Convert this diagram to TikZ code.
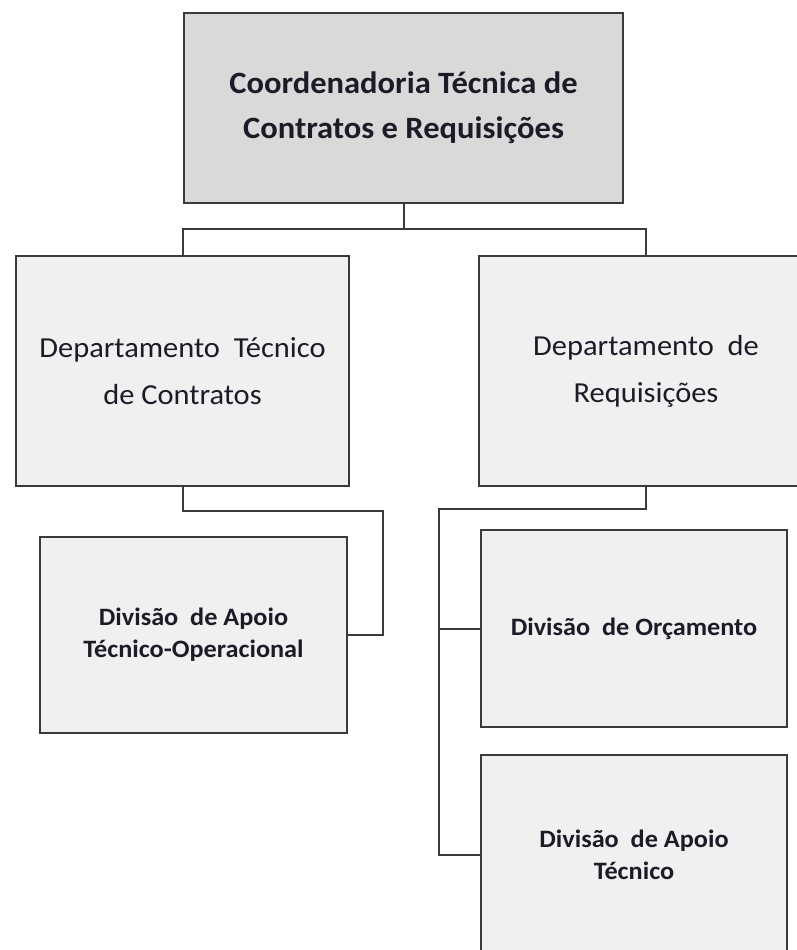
\documentclass[tikz,border=0pt]{standalone}
\usepackage{fontspec}
\setmainfont[FakeStretch=1.05]{Carlito}
\definecolor{bordo}{HTML}{3A3A3A}
\definecolor{fundo}{HTML}{F0F0F0}
\definecolor{fundoTopo}{HTML}{D9D9D9}
\definecolor{texto}{HTML}{1C1C28}
\begin{document}
\begin{tikzpicture}[x=1pt, y=-1pt,
        caixa/.style={draw=bordo, line width=2pt, fill=fundo, text=texto,
                      align=center, inner sep=0pt},
        ligacao/.style={draw=bordo, line width=2pt}]

        % area visivel
        \clip (0,0) rectangle (797,950);
        \fill[white] (0,0) rectangle (797,950);

        % ----------------------------------------------------
        % 1. Coordenadoria
        % ----------------------------------------------------
        \node[caixa, fill=fundoTopo, minimum width=439pt, minimum height=190pt,
              font=\fontsize{31}{45}\selectfont\bfseries] (coord) at (403.5,108)
              {Coordenadoria Técnica de\\Contratos e Requisições};

        % ----------------------------------------------------
        % 2. Departamentos
        % ----------------------------------------------------
        \node[caixa, minimum width=333pt, minimum height=230pt,
              font=\fontsize{29}{47}\selectfont] (dtc) at (182.5,371)
              {Departamento\ \ Técnico\\de Contratos};
        \node[caixa, minimum width=334pt, minimum height=230pt,
              font=\fontsize{29}{47}\selectfont] (dreq) at (646,371)
              {Departamento\ \ de\\Requisições};

        % ----------------------------------------------------
        % 3. Divisoes
        % ----------------------------------------------------
        \node[caixa, minimum width=307pt, minimum height=196pt,
              font=\fontsize{25}{32}\selectfont\bfseries] (dato) at (193.5,635)
              {Divisão\ \ de Apoio\\Técnico-Operacional};
        \node[caixa, minimum width=306pt, minimum height=197pt,
              font=\fontsize{25}{32}\selectfont\bfseries] (dorc) at (634,628.5)
              {Divisão\ \ de Orçamento};
        \node[caixa, minimum width=306pt, minimum height=200pt,
              font=\fontsize{25}{32}\selectfont\bfseries] (dat) at (634,855)
              {Divisão\ \ de Apoio\\Técnico};

        % ----------------------------------------------------
        % Ligacoes
        % ----------------------------------------------------
        \coordinate (barra) at (403.5,229);
        \coordinate (curvaE) at (383,511);
        \coordinate (curvaD) at (439,509);

        \draw[ligacao] (coord.south) -- (barra);
        \draw[ligacao] (dtc.north) |- (barra) -| (dreq.north);
        \draw[ligacao] (dtc.south) |- (curvaE) |- (dato.east);
        \draw[ligacao] (dreq.south) |- (curvaD) |- (dat.west);
        \draw[ligacao] (curvaD |- dorc.west) -- (dorc.west);

\end{tikzpicture}
\end{document}
